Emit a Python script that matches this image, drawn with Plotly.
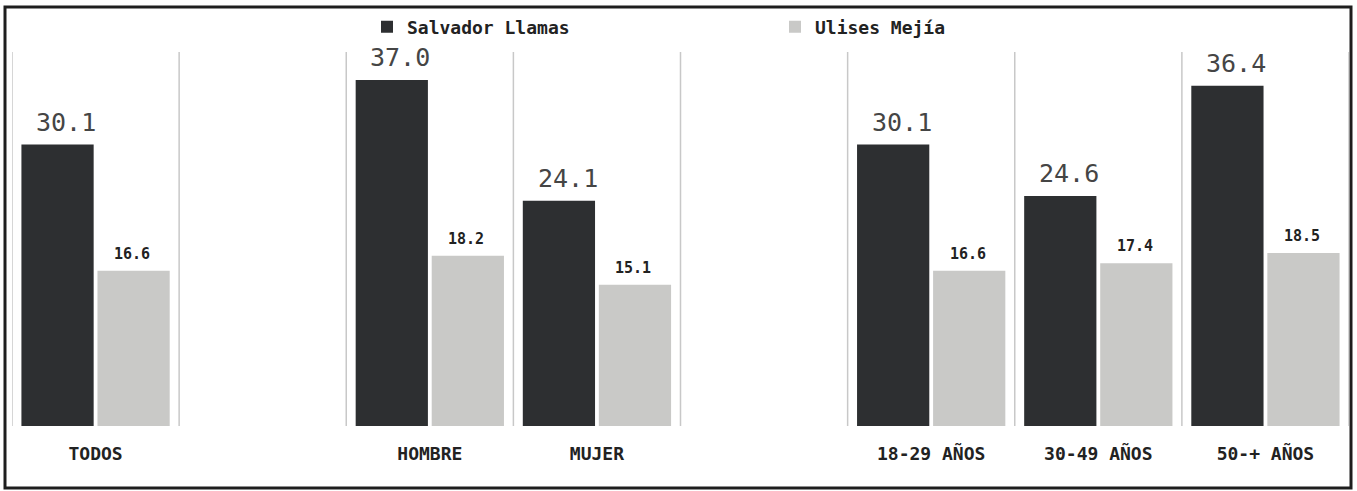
import plotly.graph_objects as go

categories = ["TODOS", "", "HOMBRE", "MUJER", "", "18-29 AÑOS", "30-49 AÑOS", "50-+ AÑOS"]
salvador = [30.1, None, 37.0, 24.1, None, 30.1, 24.6, 36.4]
ulises = [16.6, None, 18.2, 15.1, None, 16.6, 17.4, 18.5]
series_names = ["Salvador Llamas", "Ulises Mejía"]

DARK = "#2d2f31"
LIGHT = "#c9c9c7"
FONT = "DejaVu Sans Mono"

W, H = 1357, 491
ML, MR, MT, MB = 12, 8, 52, 65

xs = list(range(len(categories)))

fig = go.Figure()
fig.add_trace(go.Bar(x=xs, y=salvador, name=series_names[0], marker=dict(color=DARK, line=dict(width=0))))
fig.add_trace(go.Bar(x=xs, y=ulises, name=series_names[1], marker=dict(color=LIGHT, line=dict(width=0))))

annotations = []
for i, (a, b) in enumerate(zip(salvador, ulises)):
    if a is not None:
        annotations.append(dict(x=i - 0.2, y=a, text=f"{a:.1f}", showarrow=False, yanchor="bottom",
                                yshift=6, xshift=4, font=dict(family=FONT, size=25, color="#454545")))
    if b is not None:
        annotations.append(dict(x=i + 0.2, y=b, text=f"{b:.1f}", showarrow=False, yanchor="bottom",
                                yshift=6, xshift=3, font=dict(family=FONT, size=15, color="#222222", weight="bold")))

shapes = []
for k in range(len(categories) + 1):
    shapes.append(dict(type="line", xref="x", yref="y", x0=k - 0.5, x1=k - 0.5, y0=0, y1=40,
                       line=dict(color="#c8c8c8", width=1.5), layer="below"))

pw = W - ML - MR
ph = H - MT - MB
shapes.append(dict(type="rect", xref="paper", yref="paper",
                   x0=(5 - ML) / pw, x1=(1351 - ML) / pw,
                   y0=(H - MB - 488) / ph, y1=(H - MB - 7) / ph,
                   line=dict(color="#1e1e1e", width=3)))

fig.update_layout(
    width=W, height=H,
    margin=dict(l=ML, r=MR, t=MT, b=MB),
    paper_bgcolor="white", plot_bgcolor="white",
    barmode="group", bargap=0.09, bargroupgap=0.05,
    showlegend=True,
    legend=dict(orientation="h", x=(367 - ML) / pw, xanchor="left",
                y=(H - MB - 27) / ph, yanchor="middle",
                yref="paper", entrywidth=363, entrywidthmode="pixels",
                font=dict(family=FONT, size=18, color="#222222", weight="bold"),
                bgcolor="rgba(0,0,0,0)"),
    xaxis=dict(tickmode="array", tickvals=xs, ticktext=categories, range=[-0.5, len(categories) - 0.5],
               showgrid=False, zeroline=False, showline=False, ticks="outside", ticklen=11,
               tickcolor="rgba(0,0,0,0)", tickfont=dict(family=FONT, size=18, color="#222222", weight="bold")),
    yaxis=dict(range=[0, 40], visible=False, showgrid=False, zeroline=False),
    annotations=annotations,
    shapes=shapes,
)

fig.write_html("out.html", config={"displayModeBar": False},
               post_script="document.body.style.margin='0px';")
